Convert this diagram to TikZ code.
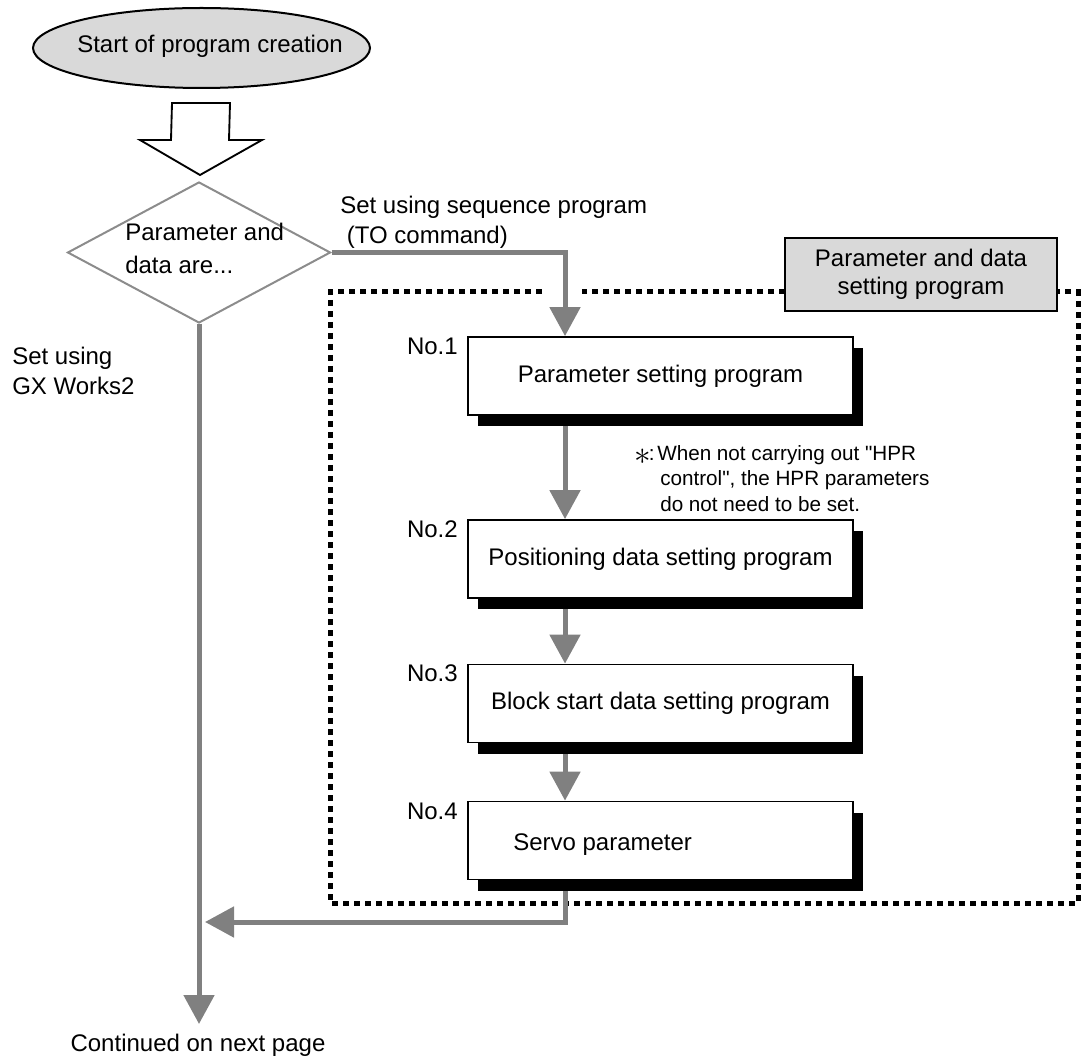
\documentclass[tikz,border=0pt]{standalone}
\usepackage{fontspec}
\setmainfont{Liberation Sans}
\newfontfamily\qf{Liberation Sans}
\usetikzlibrary{shapes.geometric,arrows.meta,shadows}
\definecolor{lgray}{HTML}{D9D9D9}
\definecolor{cgray}{HTML}{808080}
\definecolor{dgray}{HTML}{8C8C8C}
\pgfdeclarelayer{bg}
\pgfsetlayers{bg,main}
\begin{document}
\begin{tikzpicture}[x=0.75pt,y=-0.75pt,
  every node/.style={font=\fontsize{18pt}{22pt}\selectfont, inner sep=0pt},
  conn/.style={draw=cgray, line width=3.75pt, line join=miter, -{Triangle[width=22.5pt,length=21.75pt]}},
  stepbox/.style={draw=black, line width=1.3pt, fill=white, rectangle,
    minimum width=288.75pt, minimum height=58.5pt,
    drop shadow={shadow xshift=7.5pt, shadow yshift=-8.25pt, fill=black, opacity=1}},
  numlbl/.style={anchor=east},
  frame/.style={draw=black, line width=3.75pt, dash pattern=on 4.5pt off 3.75pt},
  ]
\useasboundingbox (0,0) rectangle (1082,1062);

% start terminal
\node[ellipse, draw=black, line width=1.5pt, fill=lgray, minimum width=252.75pt, minimum height=60pt] (start) at (201.5,48) {};
\node (starttxt) at (210,46) {Start of program creation};

% hollow arrow
\draw[black, line width=1.4pt, fill=white, line join=miter]
  (172,103) -- (230,103) -- (229,140) -- (262,140) -- (200,175) -- (140,140) -- (171,140) -- cycle;

% decision
\node[diamond, draw=dgray, line width=1.5pt, minimum width=197.25pt, minimum height=105.75pt] (dia) at (199,252.5) {};
\node[anchor=west, align=left, font=\fontsize{18pt}{24.75pt}\selectfont] (dtxt) at (125,248.5) {Parameter and\\data are...};

% branch labels
\node[anchor=west, align=left, font=\fontsize{18pt}{22.5pt}\selectfont] (seqlbl) at (340,222) {Set using sequence program\\\hspace*{5pt}(TO command)};
\node[anchor=west, align=left, font=\fontsize{18pt}{22.5pt}\selectfont] (gxlbl) at (12,371) {Set using\\GX Works2};

% step boxes
\node[stepbox] (b1) at (660.5,376) {Parameter setting program};
\node[stepbox] (b2) at (660.5,559) {Positioning data setting program};
\node[stepbox] (b3) at (660.5,703.5) {Block start data setting program};
\node[stepbox] (b4) at (660.5,840.5) {};
\node[anchor=west] (s4) at (513,844.7) {Servo parameter};

\node[numlbl] (n1) at (458,346.5) {No.1};
\node[numlbl] (n2) at (458,529.5) {No.2};
\node[numlbl] (n3) at (458,673.5) {No.3};
\node[numlbl] (n4) at (458,811.5) {No.4};

% note
\node[anchor=west, align=left, font=\fontsize{15.5pt}{19pt}\selectfont] (note) at (634,478.4)
  {\raisebox{-3pt}[0pt][0pt]{\fontsize{36pt}{36pt}\selectfont$\ast$}\hspace{-1.5pt}:\hspace{2pt}When not carrying out {\qf"}HPR\\
   \hspace*{19.5pt}control{\qf"}, the HPR parameters\\
   \hspace*{19.5pt}do not need to be set.};

% group label
\node[draw=black, line width=1.3pt, fill=lgray, minimum width=204pt, minimum height=54.75pt,
  align=center, font=\fontsize{18pt}{21pt}\selectfont] (grp) at (921,274.5)
  {Parameter and data\\setting program};

% end text
\node (cont) at (198,1045) {Continued on next page};

\coordinate (ax) at (565,0);
\coordinate (endp) at (199,1024);
\coordinate (ret) at (205,922);

\begin{pgfonlayer}{bg}
  \draw[frame] (542,292) -- (330,292) -- (330,903) -- (1078,903) -- (1078,292) -- (582,292);
  \draw[conn] (dia.east) -| (ax |- b1.north);
  \draw[conn] (ax |- b1.south) -- (ax |- b2.north);
  \draw[conn] (ax |- b2.south) -- (ax |- b3.north);
  \draw[conn] (ax |- b3.south) -- (ax |- b4.north);
  \draw[conn] (ax |- b4.south) |- (ret);
  \draw[conn] (dia.south) -- (endp);
\end{pgfonlayer}
\end{tikzpicture}
\end{document}
